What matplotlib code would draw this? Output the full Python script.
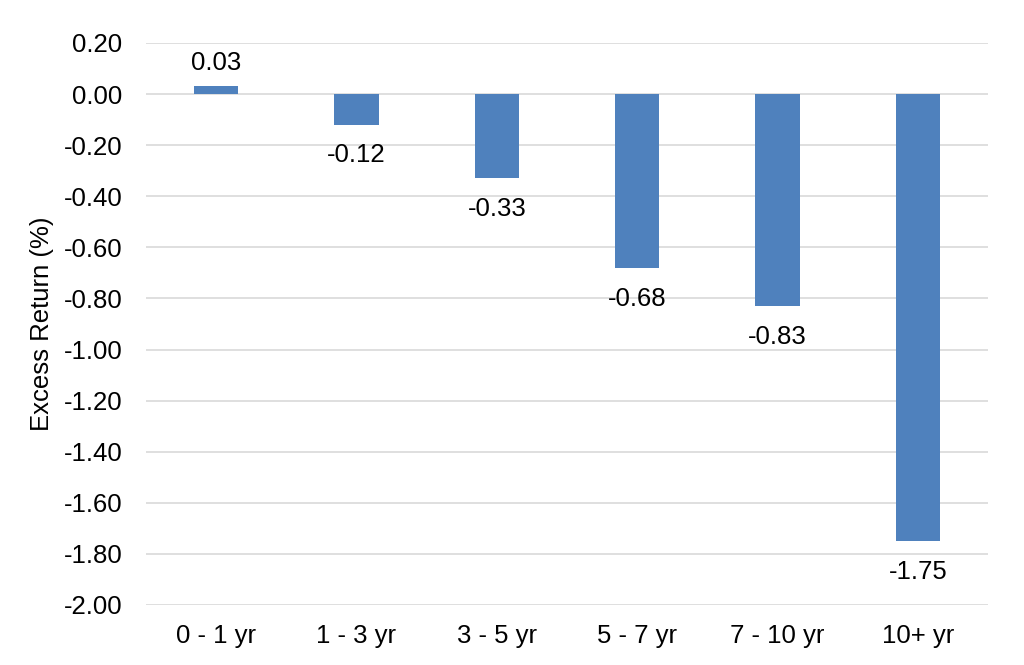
import matplotlib
matplotlib.use("Agg")
import matplotlib.pyplot as plt

categories = ["0 - 1 yr", "1 - 3 yr", "3 - 5 yr", "5 - 7 yr", "7 - 10 yr", "10+ yr"]
excess_return = [0.03, -0.12, -0.33, -0.68, -0.83, -1.75]
yticks = [0.20, 0.00, -0.20, -0.40, -0.60, -0.80, -1.00, -1.20, -1.40, -1.60, -1.80, -2.00]

plt.rcParams['font.family'] = ['Liberation Sans', 'DejaVu Sans']
FS = 18.5

fig = plt.figure(figsize=(10.24, 6.65), dpi=100)
ax = fig.add_axes([146/1024, 1 - 605/665, (988-146)/1024, (605-43)/665])

x = list(range(len(categories)))
ax.bar(x, excess_return, width=0.315, color="#4F81BD", zorder=3)

for xi, v in zip(x, excess_return):
    if v >= 0:
        ax.annotate(f"{v:.2f}", (xi, v), xytext=(0, 8), textcoords="offset points",
                    ha="center", va="bottom", fontsize=FS)
    else:
        ax.annotate(f"{v:.2f}", (xi, v), xytext=(0, -13.5), textcoords="offset points",
                    ha="center", va="top", fontsize=FS)

ax.set_xlim(-0.5, len(categories) - 0.5)
ax.set_ylim(-2.0, 0.2)
ax.set_yticks(yticks)
ax.set_yticklabels([f"{t:.2f}" for t in yticks], fontsize=FS)
ax.set_xticks(x)
ax.set_xticklabels(categories, fontsize=FS)
ax.tick_params(axis='y', length=0, pad=17)
ax.tick_params(axis='x', length=0, pad=14)
ax.yaxis.grid(True, color="#D9D9D9", linewidth=1.2, zorder=0)
for s in ax.spines.values():
    s.set_visible(False)
ax.set_ylabel("Excess Return (%)", fontsize=FS, labelpad=7)

fig.savefig("out.png", dpi=100)
